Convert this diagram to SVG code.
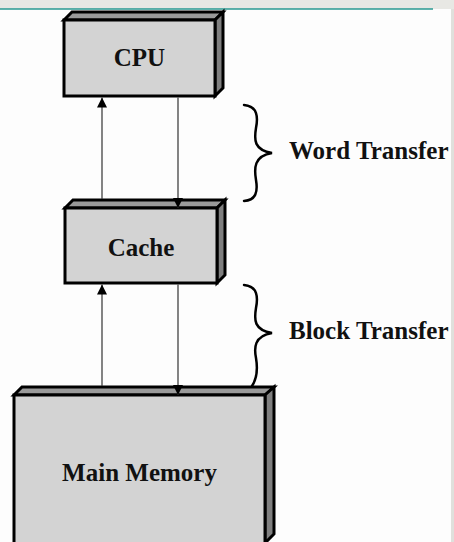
<svg xmlns="http://www.w3.org/2000/svg" width="454" height="542" viewBox="0 0 454 542">
<defs>
<style>
.front{fill:#d3d3d3;stroke:#000;stroke-width:3;stroke-linejoin:miter}
.top{fill:#9a9a9a;stroke:#000;stroke-width:3;stroke-linejoin:miter}
.side{fill:#7f7f7f;stroke:#000;stroke-width:3;stroke-linejoin:miter}
.lbl{font-family:"Liberation Serif","Times New Roman",serif;font-weight:bold;font-size:25px;fill:#111}
.wire{stroke:#333;stroke-width:1.2;fill:none}
.brace{stroke:#000;stroke-width:2.5;fill:none;stroke-linecap:round}
</style>
<marker id="ah" viewBox="0 0 10 10" refX="10" refY="5" markerWidth="10" markerHeight="10" markerUnits="userSpaceOnUse" orient="auto">
<path d="M0,0 L10,5 L0,10 Z" fill="#000"/>
</marker>
</defs>
<rect x="0" y="0" width="454" height="542" fill="#fdfdfd"/>
<rect x="0" y="0" width="454" height="9" fill="#e8e8e4"/>
<line x1="0" y1="9" x2="433" y2="9" stroke="#2a9a92" stroke-width="1.5"/>
<rect x="451" y="9" width="3" height="533" fill="#e0e0dc"/>

<g id="cpu">
<polygon class="top" points="64,20 72,12 223,12 215,20"/>
<polygon class="side" points="215,20 223,12 223,88 215,96"/>
<rect class="front" x="64" y="20" width="151" height="76"/>
<text class="lbl" x="139.5" y="66" text-anchor="middle">CPU</text>
</g>

<g id="cache">
<polygon class="top" points="65,208 73,200 225,200 217,208"/>
<polygon class="side" points="217,208 225,200 225,275 217,283"/>
<rect class="front" x="65" y="208" width="152" height="75"/>
<text class="lbl" x="141" y="256" text-anchor="middle">Cache</text>
</g>

<g id="memory">
<polygon class="top" points="14,395 22,387 274,387 265,395"/>
<polygon class="side" points="265,395 274,387 274,534 265,543"/>
<rect class="front" x="14" y="395" width="251" height="160"/>
<text class="lbl" x="139.5" y="481" text-anchor="middle">Main Memory</text>
</g>

<g id="connectors">
<line class="wire" x1="102" y1="199" x2="102" y2="97.5" marker-end="url(#ah)"/>
<line class="wire" x1="178" y1="97.5" x2="178" y2="208" marker-end="url(#ah)"/>
<line class="wire" x1="102" y1="386" x2="102" y2="284.5" marker-end="url(#ah)"/>
<line class="wire" x1="178" y1="284.5" x2="178" y2="395" marker-end="url(#ah)"/>
</g>

<g id="word-transfer">
<path class="brace" d="M244,105 C258,106 258,118 256,128 C254,140 254,150 272,153 C254,156 254,168 256,180 C258,192 256,200 244,201"/>
<text class="lbl" x="289" y="159">Word Transfer</text>
</g>

<g id="block-transfer">
<path class="brace" d="M244,285 C258,286 258,298 256,308 C254,320 254,330 272,333 C254,336 254,348 256,358 C258,370 256,380 252,386"/>
<text class="lbl" x="289" y="339">Block Transfer</text>
</g>
</svg>
